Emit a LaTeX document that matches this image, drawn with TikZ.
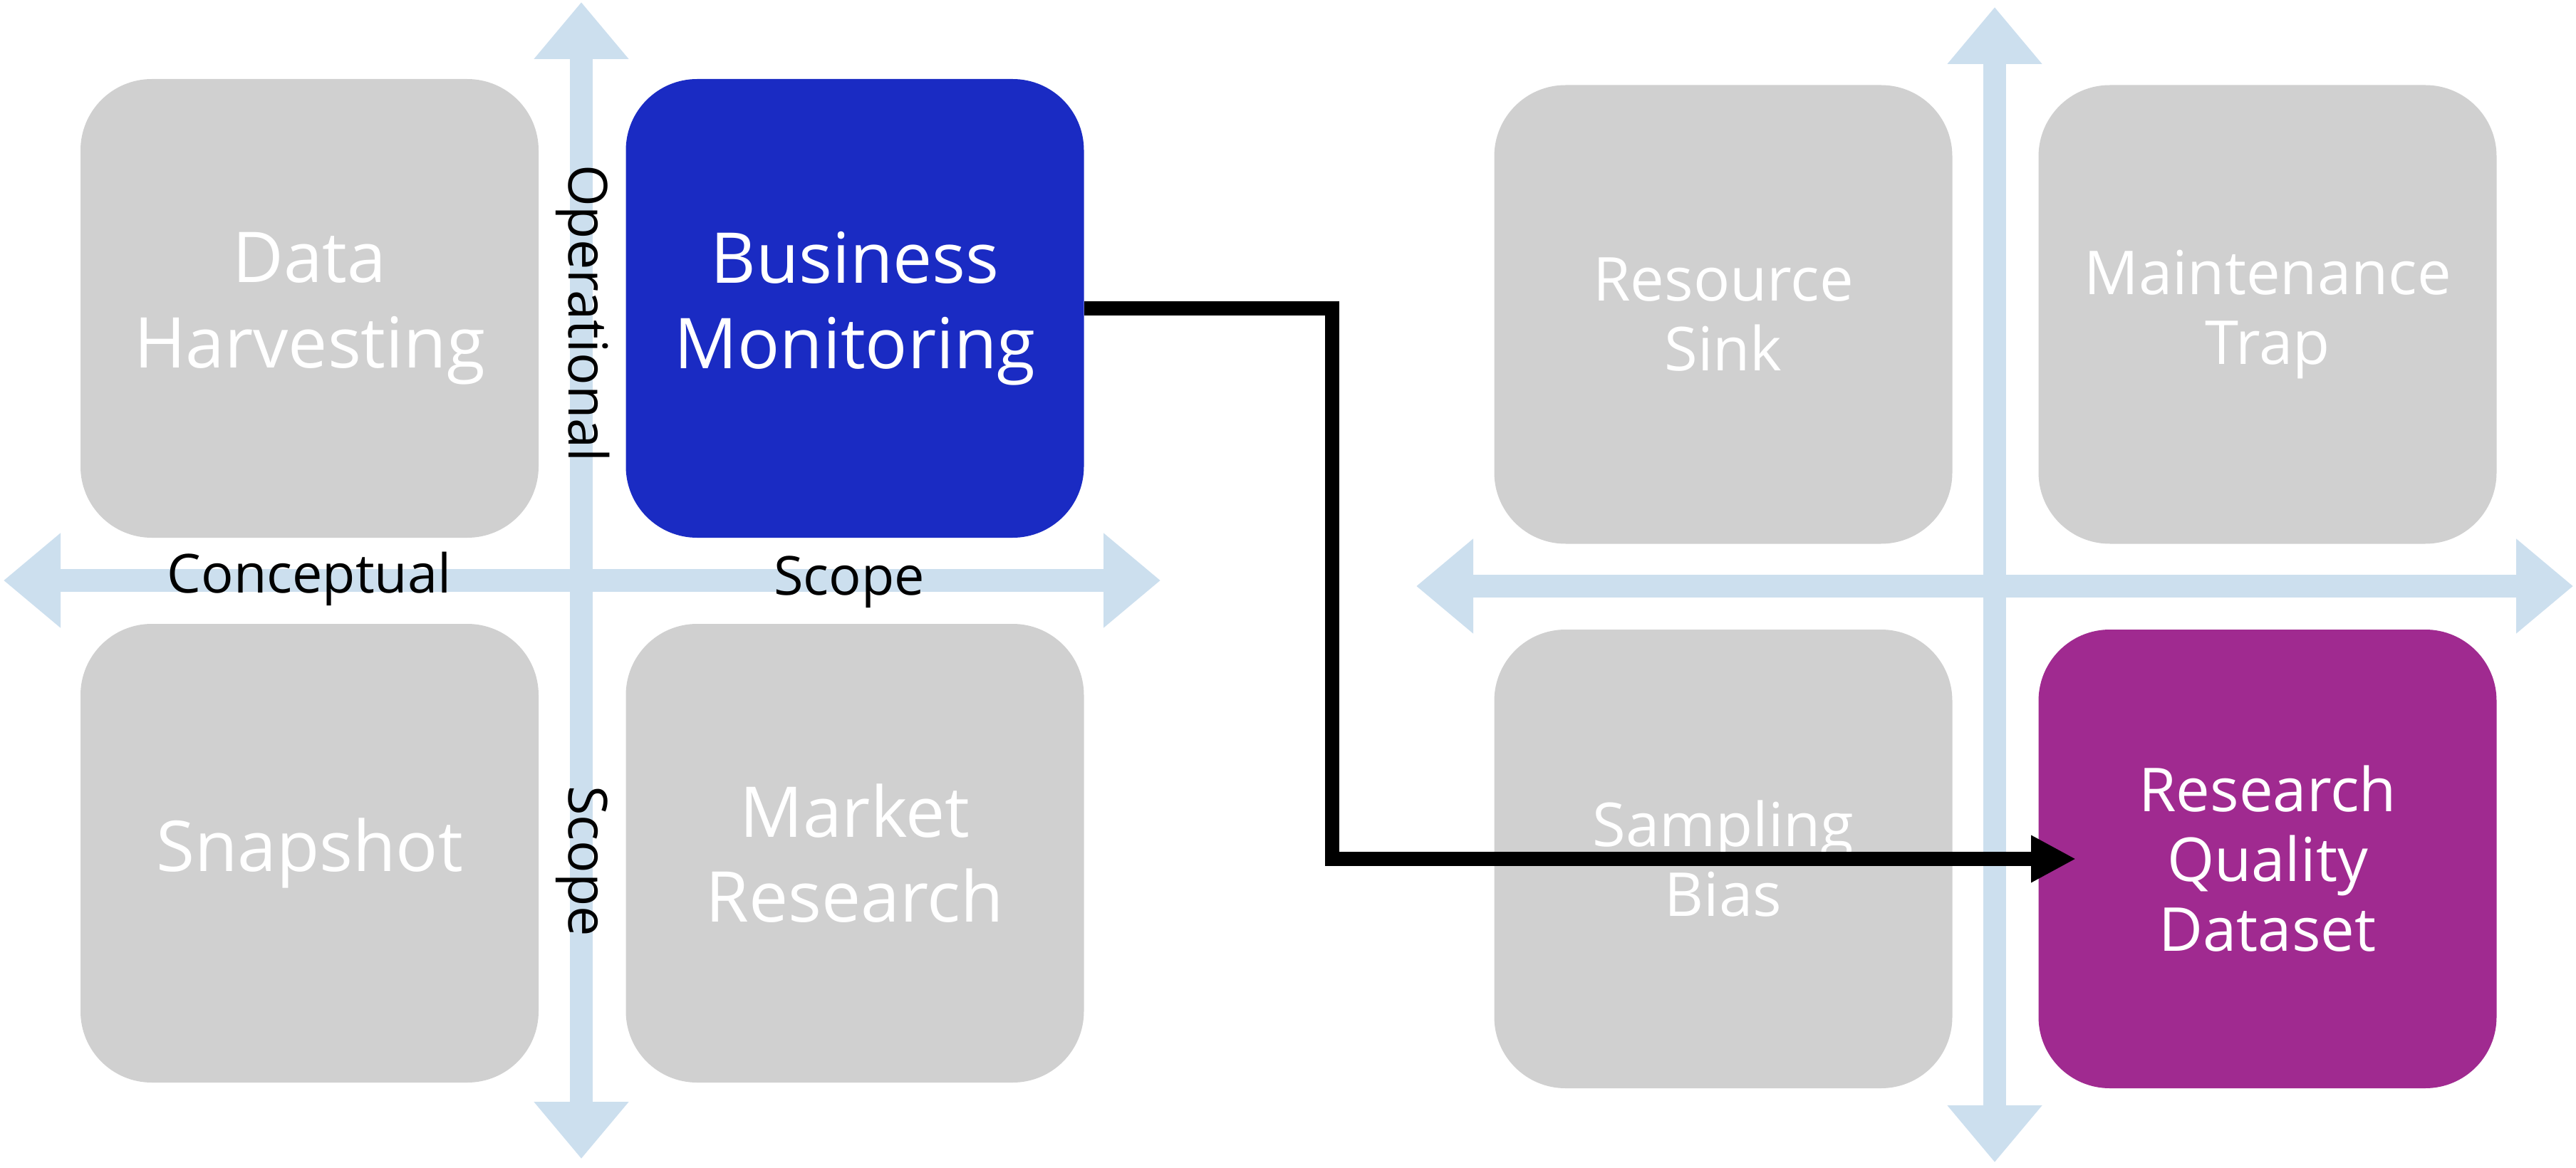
\documentclass[tikz,border=0pt]{standalone}
\usepackage{fontspec}
\setmainfont{Open Sans}
\usetikzlibrary{arrows.meta}
\definecolor{boxgray}{HTML}{D0D0D0}
\definecolor{bmblue}{HTML}{1A2BC3}
\definecolor{rqpurple}{HTML}{A02A90}
\definecolor{axisblue}{HTML}{CCDFEE}
\begin{document}
\begin{tikzpicture}[
  quad/.style={rectangle, rounded corners=1cm, minimum width=6.43cm, minimum height=6.44cm, inner sep=0pt, fill=boxgray, text=white, align=center},
  bigtxt/.style={font=\fontsize{28}{34}\selectfont},
  smalltxt/.style={font=\fontsize{24.2}{27.9}\selectfont},
  axisarrow/.style={draw=axisblue, line width=0.32cm, {Triangle[length=0.8cm,width=1.28cm]}-{Triangle[length=0.8cm,width=1.28cm]}},
  axlabel/.style={font=\fontsize{21.5}{26}\selectfont, text=black, inner sep=0pt},
  conn/.style={draw=black, line width=0.2cm, -{Triangle[length=0.63cm,width=0.62cm]}}
]
\useasboundingbox (0,0) rectangle (36.16,-16.40);
% axis end points
\coordinate (lW) at (0.05,-8.15);
\coordinate (lE) at (16.29,-8.15);
\coordinate (lN) at (8.16,-0.03);
\coordinate (lS) at (8.16,-16.27);
\coordinate (rW) at (19.88,-8.23);
\coordinate (rE) at (36.12,-8.23);
\coordinate (rN) at (28.00,-0.10);
\coordinate (rS) at (28.00,-16.32);
\draw[axisarrow] (lW) -- (lE);
\draw[axisarrow] (lN) -- (lS);
\draw[axisarrow] (rW) -- (rE);
\draw[axisarrow] (rN) -- (rS);
% left quadrant
\node[quad, bigtxt] (dh) at (4.345,-4.33) {Data\\Harvesting};
\node[quad, bigtxt, fill=bmblue] (bm) at (12.00,-4.33) {Business\\Monitoring};
\node[quad, bigtxt] (sn) at (4.345,-11.98) {Snapshot};
\node[quad, bigtxt] (mr) at (12.00,-11.98) {Market\\Research};
% right quadrant
\node[quad, smalltxt] (rs) at (24.19,-4.415) {Resource\\Sink};
\node[quad, smalltxt] (mt) at (31.83,-4.415) {Maintenance\\Trap};
\node[quad, smalltxt] (sb) at (24.19,-12.06) {Sampling\\Bias};
\node[quad, smalltxt, fill=rqpurple] (rq) at (31.83,-12.06) {Research\\Quality\\Dataset};
% axis labels
\node[axlabel, anchor=base] (conc) at (4.34,-8.32) {Conceptual};
\node[axlabel, anchor=base] (scopeh) at (11.92,-8.35) {Scope};
\node[axlabel, anchor=base, rotate=-90] (oper) at (7.98,-4.40) {Operational};
\node[axlabel, anchor=base, rotate=-90] (scopev) at (7.98,-12.09) {Scope};
% connector
\coordinate (bend) at (18.70,-4.33);
\coordinate (tip) at (29.14,-12.06);
\draw[conn] (bm.east) -- (bend) |- (tip);
\end{tikzpicture}
\end{document}
